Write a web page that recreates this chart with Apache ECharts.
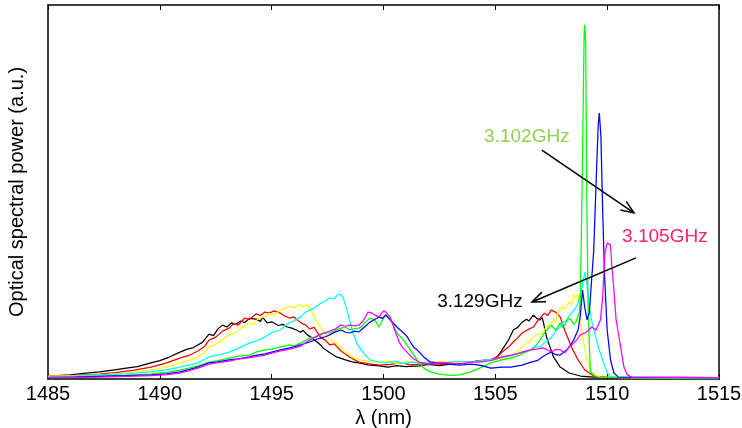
<!DOCTYPE html>
<html>
<head>
<meta charset="utf-8">
<script src="https://cdn.jsdelivr.net/npm/echarts@6/dist/echarts.min.js"></script>
<style>
  html, body { margin: 0; padding: 0; background: #fff; }
  #chart { width: 742px; height: 428px; }
</style>
</head>
<body>
<div id="chart"></div>
<script>
// Wavelength axis (nm)
const xMin = 1485, xMax = 1515, xStep = 5;

// Spectra: [wavelength nm, power a.u.]
const specBlack = [[1485,0.8],[1486,1.1],[1486.6,1.5],[1487.3,1.9],[1487.9,2.4],[1488.5,2.9],[1489,3.3],[1489.6,4.3],[1490,4.9],[1490.4,5.8],[1490.9,7.2],[1491.2,7.9],[1491.5,8.4],[1491.7,9.1],[1491.9,9.8],[1492.2,12.0],[1492.4,11.6],[1492.6,13.4],[1492.8,14.4],[1493.0,13.9],[1493.2,15.0],[1493.4,14.6],[1493.6,15.5],[1493.8,15.1],[1494.0,16.2],[1494.3,16.0],[1494.5,15.4],[1494.6,16.5],[1494.8,15.0],[1495.0,15.3],[1495.3,14.3],[1495.5,14.6],[1495.7,13.9],[1495.9,13.6],[1496.1,13.1],[1496.3,12.5],[1496.4,13.0],[1496.6,11.8],[1496.8,11.0],[1497.0,10.0],[1497.2,9.0],[1497.3,8.3],[1497.6,7.0],[1497.9,5.9],[1498.3,5.1],[1498.6,4.6],[1498.9,4.3],[1499.3,3.8],[1499.8,3.5],[1500.2,3.2],[1500.6,3.6],[1501.0,3.3],[1501.6,3.5],[1502.0,3.9],[1502.5,3.6],[1503.0,4.0],[1503.5,4.2],[1503.9,4.5],[1504.3,4.9],[1504.8,5.1],[1505.1,6.0],[1505.3,7.8],[1505.6,10.5],[1505.8,13.1],[1506.0,13.8],[1506.2,15.2],[1506.4,16.0],[1506.5,15.5],[1506.7,17.1],[1506.85,16.2],[1507.0,15.8],[1507.1,16.4],[1507.3,11.0],[1507.6,5.9],[1507.9,3.2],[1508.3,1.6],[1508.8,0.8],[1509.7,0.4],[1512,0.3],[1515,0.3]];

const specRed = [[1485,0.8],[1486,0.9],[1487.3,1.3],[1488,1.7],[1488.8,2.3],[1489.6,3.2],[1490.2,4.1],[1490.9,5.6],[1491.3,6.3],[1491.7,7.5],[1492.0,8.7],[1492.2,10.4],[1492.5,11.2],[1492.8,12.8],[1493.1,13.6],[1493.3,14.8],[1493.5,14.4],[1493.8,16.3],[1494.0,15.9],[1494.3,17.4],[1494.5,17.0],[1494.7,17.9],[1494.9,17.6],[1495.1,18.2],[1495.4,17.6],[1495.6,16.8],[1495.8,16.3],[1496.0,16.6],[1496.3,15.0],[1496.5,14.5],[1496.7,13.4],[1496.9,13.8],[1497.2,11.0],[1497.4,10.4],[1497.6,9.1],[1497.8,9.4],[1498.1,7.5],[1498.5,5.8],[1498.9,4.5],[1499.3,4.1],[1499.8,3.7],[1500.3,3.9],[1500.8,4.4],[1501.2,3.8],[1501.6,4.0],[1502.1,4.2],[1502.6,3.9],[1503.2,4.6],[1503.9,4.5],[1504.4,4.9],[1504.8,5.1],[1505.1,6.0],[1505.3,7.2],[1505.6,8.6],[1505.8,9.9],[1506.0,11.0],[1506.2,12.3],[1506.4,13.0],[1506.7,13.9],[1506.9,15.6],[1507.2,17.6],[1507.35,17.0],[1507.5,18.4],[1507.7,17.9],[1507.9,16.6],[1508.1,13.1],[1508.4,8.6],[1508.7,5.1],[1509.0,2.4],[1509.4,0.8],[1510.3,0.4],[1515,0.3]];

const specYellow = [[1485,0.8],[1486.2,0.9],[1487.3,1.1],[1488.5,1.6],[1489.6,2.4],[1490.3,3.2],[1490.9,4.3],[1491.3,5.0],[1491.7,5.9],[1492.0,7.0],[1492.2,8.6],[1492.5,9.2],[1492.8,10.6],[1493.1,11.8],[1493.4,12.4],[1493.7,13.9],[1494.0,15.0],[1494.2,14.6],[1494.4,16.2],[1494.7,16.6],[1494.9,17.5],[1495.1,17.1],[1495.4,18.4],[1495.6,18.9],[1495.8,19.5],[1496.0,19.0],[1496.2,19.9],[1496.4,19.4],[1496.6,19.8],[1496.75,18.5],[1496.9,16.6],[1497.2,13.6],[1497.5,11.2],[1497.8,9.9],[1498.1,8.6],[1498.4,6.8],[1498.6,5.9],[1498.9,5.1],[1499.4,4.7],[1499.8,4.5],[1500.2,4.8],[1500.6,4.2],[1501.0,4.6],[1501.6,4.5],[1502.1,4.3],[1502.6,4.8],[1503.2,4.4],[1503.9,4.5],[1504.4,4.8],[1504.8,5.1],[1505.3,5.4],[1505.7,5.9],[1505.95,7.2],[1506.2,8.6],[1506.4,9.8],[1506.6,10.4],[1506.8,11.6],[1507.1,12.3],[1507.25,13.7],[1507.4,14.4],[1507.6,15.8],[1507.7,15.0],[1507.8,17.9],[1508.0,19.3],[1508.1,18.6],[1508.3,20.6],[1508.4,19.8],[1508.5,22.5],[1508.6,21.6],[1508.7,22.8],[1508.9,11.2],[1509.1,5.1],[1509.3,1.6],[1509.7,0.5],[1511,0.4],[1515,0.3]];

const specCyan = [[1485,0.5],[1486.2,0.8],[1487.3,1.1],[1488.5,1.4],[1489.6,1.9],[1490.3,2.5],[1490.9,3.2],[1491.3,3.7],[1491.7,4.3],[1492.2,5.9],[1492.6,6.4],[1493.1,7.2],[1493.5,8.2],[1494.0,9.6],[1494.3,10.1],[1494.7,11.2],[1495.0,12.4],[1495.4,13.1],[1495.6,14.3],[1495.8,15.0],[1496.0,15.6],[1496.3,16.6],[1496.5,17.8],[1496.7,18.4],[1496.95,19.1],[1497.2,20.3],[1497.4,20.8],[1497.6,21.7],[1497.8,21.4],[1497.95,22.6],[1498.1,22.5],[1498.2,21.7],[1498.4,17.6],[1498.6,13.1],[1498.8,9.6],[1499.1,7.0],[1499.4,5.1],[1499.8,4.5],[1500.1,4.3],[1500.5,4.8],[1500.9,4.2],[1501.3,4.5],[1501.6,4.3],[1502.1,4.6],[1502.6,4.2],[1503.2,4.7],[1503.9,4.5],[1504.5,5.0],[1505.2,5.6],[1505.7,6.2],[1506.1,7.0],[1506.4,7.6],[1506.6,7.8],[1506.8,8.5],[1507.0,8.6],[1507.25,10.0],[1507.5,11.0],[1507.7,12.8],[1507.9,13.9],[1508.05,15.2],[1508.2,15.8],[1508.3,16.8],[1508.4,17.6],[1508.55,18.6],[1508.7,20.3],[1508.85,23.8],[1509.0,28.6],[1509.1,25.0],[1509.2,19.3],[1509.3,15.8],[1509.45,12.2],[1509.6,8.6],[1509.9,3.2],[1510.1,0.8],[1510.5,0.4],[1515,0.3]];

const specGreen = [[1485,0.5],[1486.2,0.6],[1487.3,0.8],[1488.5,1.0],[1489.6,1.3],[1490.3,1.8],[1490.9,2.4],[1491.3,2.9],[1491.7,3.5],[1492.2,4.5],[1492.6,4.9],[1493.1,5.6],[1493.5,6.1],[1494.0,6.4],[1494.3,7.2],[1494.7,7.8],[1495.0,8.0],[1495.4,8.6],[1495.8,9.1],[1496.0,8.8],[1496.3,9.6],[1496.5,10.3],[1496.7,11.0],[1496.95,11.2],[1497.2,11.8],[1497.4,12.4],[1497.6,12.3],[1497.85,13.0],[1498.1,13.6],[1498.3,13.9],[1498.5,13.1],[1498.7,13.5],[1498.9,13.6],[1499.05,14.2],[1499.2,15.2],[1499.4,16.3],[1499.6,15.8],[1499.8,13.9],[1500.0,16.3],[1500.1,17.1],[1500.25,16.4],[1500.4,15.0],[1500.6,12.3],[1500.9,10.4],[1501.2,7.8],[1501.5,5.1],[1501.8,2.9],[1502.1,1.9],[1502.5,1.3],[1503.0,1.0],[1503.4,1.1],[1503.9,1.9],[1504.3,2.9],[1504.8,4.3],[1505.3,5.1],[1505.7,5.6],[1506.1,6.4],[1506.35,7.2],[1506.6,7.8],[1506.8,8.8],[1507.0,10.4],[1507.15,12.0],[1507.3,13.1],[1507.5,14.4],[1507.7,13.1],[1507.9,15.0],[1508.0,13.8],[1508.1,14.4],[1508.25,16.2],[1508.4,15.8],[1508.5,14.6],[1508.6,15.2],[1508.75,17.5],[1508.8,21.0],[1508.87,47.9],[1508.97,92.0],[1509.0,94.7],[1509.04,90.0],[1509.09,47.9],[1509.15,18.0],[1509.25,1.9],[1509.5,0.5],[1512,0.4],[1515,0.4]];

const specBlue = [[1485,0.4],[1486.2,0.5],[1487.3,0.7],[1488.5,0.9],[1489.6,1.1],[1490.3,1.4],[1490.9,1.9],[1491.3,2.5],[1491.7,3.2],[1492.2,4.3],[1492.6,4.6],[1493.1,5.1],[1493.5,5.4],[1494.0,5.9],[1494.3,6.3],[1494.7,6.7],[1495.0,7.2],[1495.4,7.8],[1495.8,8.3],[1496.0,8.6],[1496.3,9.1],[1496.5,9.5],[1496.7,9.9],[1496.95,10.5],[1497.2,11.0],[1497.4,11.3],[1497.6,11.8],[1497.85,12.6],[1498.1,13.1],[1498.3,12.5],[1498.5,12.3],[1498.7,12.8],[1498.9,12.6],[1499.15,13.9],[1499.4,15.2],[1499.6,15.9],[1499.8,16.6],[1499.95,16.2],[1500.1,17.1],[1500.3,15.8],[1500.6,13.9],[1500.9,12.3],[1501.05,11.4],[1501.2,9.9],[1501.35,8.5],[1501.5,7.8],[1501.8,5.9],[1502.1,4.5],[1502.5,4.3],[1503.0,3.9],[1503.4,3.7],[1503.9,4.0],[1504.3,3.7],[1504.8,2.9],[1505.3,3.2],[1505.7,3.2],[1506.0,3.5],[1506.2,3.7],[1506.6,4.5],[1506.9,5.0],[1507.1,5.9],[1507.3,6.6],[1507.5,7.2],[1507.7,6.5],[1507.9,6.4],[1508.2,7.8],[1508.35,9.0],[1508.5,10.4],[1508.7,13.1],[1508.8,17.0],[1508.9,23.8],[1509.0,19.0],[1509.1,15.8],[1509.2,17.6],[1509.4,34.5],[1509.52,55.0],[1509.6,68.0],[1509.65,71.1],[1509.72,65.0],[1509.8,45.0],[1509.88,28.0],[1510.0,13.1],[1510.15,5.1],[1510.3,1.6],[1510.5,0.5],[1515,0.4]];

const specMagenta = [[1485,0.4],[1486.2,0.45],[1487.3,0.5],[1488.5,0.7],[1489.6,0.9],[1490.3,1.2],[1490.9,1.6],[1491.3,2.2],[1491.7,2.9],[1492.2,4.0],[1492.6,4.4],[1493.1,4.8],[1493.5,5.3],[1494.0,5.7],[1494.3,6.0],[1494.7,6.4],[1495.0,6.9],[1495.4,7.5],[1495.8,8.0],[1496.0,8.3],[1496.3,8.8],[1496.5,9.6],[1496.7,10.4],[1496.95,11.2],[1497.2,12.0],[1497.4,12.4],[1497.6,12.8],[1497.85,13.4],[1498.1,14.4],[1498.3,14.1],[1498.5,14.4],[1498.7,14.2],[1498.9,14.4],[1499.05,15.3],[1499.2,16.6],[1499.3,17.9],[1499.5,17.6],[1499.65,17.0],[1499.8,16.6],[1500.0,18.2],[1500.1,17.9],[1500.3,16.6],[1500.5,13.1],[1500.7,9.9],[1500.85,8.4],[1501.05,7.2],[1501.3,5.6],[1501.6,4.5],[1502.0,4.0],[1502.5,4.4],[1502.9,4.3],[1503.4,4.0],[1503.9,4.5],[1504.3,4.5],[1504.8,4.9],[1505.3,5.9],[1505.7,6.4],[1506.0,6.8],[1506.2,7.2],[1506.4,7.5],[1506.6,7.8],[1506.85,8.0],[1507.1,8.3],[1507.3,7.9],[1507.5,7.2],[1507.7,7.9],[1507.9,7.8],[1508.1,7.0],[1508.3,8.5],[1508.5,9.6],[1508.65,10.5],[1508.8,11.8],[1509.0,12.3],[1509.15,12.9],[1509.3,13.9],[1509.5,13.1],[1509.7,15.8],[1509.8,21.9],[1509.9,33.7],[1510.0,36.4],[1510.15,35.8],[1510.2,31.0],[1510.3,23.8],[1510.4,15.8],[1510.5,12.3],[1510.6,8.6],[1510.75,3.2],[1510.9,1.1],[1511.1,0.5],[1515,0.4]];

const seriesNames = ['black', 'red', 'yellow', 'cyan', 'green', 'blue', 'magenta'];
const seriesColors = ['#000000', '#ff0000', '#ffff00', '#00ffff', '#00ff00', '#0000ff', '#ff00ff'];
const seriesData = [specBlack, specRed, specYellow, specCyan, specGreen, specBlue, specMagenta];

// Frequency labels with their arrows, in data coordinates
const labelTexts = ['3.102GHz', '3.105GHz', '3.129GHz'];
const labelColors = ['#92d050', '#ff2070', '#000000'];
const labelAt = [[1506.41, 64.7], [1512.58, 38.0], [1504.31, 20.6]];
const arrowFrom = [[1507.08, 61.2], [1511.29, 32.4]];
const arrowTo = [[1511.2, 44.4], [1506.64, 20.6]];

const FONT = '"Liberation Sans", Arial, sans-serif';
const chart = echarts.init(document.getElementById('chart'));

const boxLine = { onZero: false, lineStyle: { color: '#000', width: 1.5 } };

chart.setOption({
  animation: false,
  backgroundColor: '#ffffff',
  grid: { left: 48, right: 23, top: 5, bottom: 49, containLabel: false, outerBoundsMode: 'none' },
  xAxis: [{
    type: 'value', min: xMin, max: xMax, interval: xStep, position: 'bottom',
    name: 'λ (nm)', nameLocation: 'middle', nameGap: 23,
    nameTextStyle: { fontFamily: FONT, fontSize: 20, color: '#000' },
    axisLine: boxLine,
    axisTick: { inside: true, length: 5, lineStyle: { color: '#000' } },
    axisLabel: { fontFamily: FONT, fontSize: 20, color: '#000', margin: 5, formatter: v => String(v) },
    splitLine: { show: false }
  }, {
    type: 'value', min: xMin, max: xMax, interval: xStep, position: 'top',
    axisLine: boxLine,
    axisTick: { inside: true, length: 5, lineStyle: { color: '#000' } },
    axisLabel: { show: false }, splitLine: { show: false }
  }],
  yAxis: [{
    type: 'value', min: 0, max: 100, position: 'left',
    name: 'Optical spectral power (a.u.)', nameLocation: 'middle', nameGap: 21,
    nameTextStyle: { fontFamily: FONT, fontSize: 20, color: '#000' },
    axisLine: Object.assign({ show: true }, boxLine),
    axisTick: { show: false }, axisLabel: { show: false }, splitLine: { show: false }
  }, {
    type: 'value', min: 0, max: 100, position: 'right',
    axisLine: Object.assign({ show: true }, boxLine),
    axisTick: { show: false }, axisLabel: { show: false }, splitLine: { show: false }
  }],
  series: seriesNames.map((n, i) => ({
    name: n, type: 'line', data: seriesData[i], showSymbol: false, symbol: 'none',
    lineStyle: { color: seriesColors[i], width: 1.25 }, z: 2 + i, silent: true
  }))
});

// Annotations placed from data coordinates
function headLines(p0, p1, len, ang) {
  const a = Math.atan2(p1[1] - p0[1], p1[0] - p0[0]);
  const l = [p1[0] - len * Math.cos(a - ang), p1[1] - len * Math.sin(a - ang)];
  const r = [p1[0] - len * Math.cos(a + ang), p1[1] - len * Math.sin(a + ang)];
  return [l, p1, r];
}
const graphics = [];
labelTexts.forEach((t, i) => {
  const p = chart.convertToPixel({ xAxisIndex: 0, yAxisIndex: 0 }, labelAt[i]);
  graphics.push({ type: 'text', x: p[0], y: p[1], z: 50,
    style: { text: t, fill: labelColors[i], font: '19px ' + FONT, textAlign: 'center', textVerticalAlign: 'middle' } });
});
arrowFrom.forEach((f, i) => {
  const p0 = chart.convertToPixel({ xAxisIndex: 0, yAxisIndex: 0 }, f);
  const p1 = chart.convertToPixel({ xAxisIndex: 0, yAxisIndex: 0 }, arrowTo[i]);
  graphics.push({ type: 'polyline', z: 50, shape: { points: [p0, p1] }, style: { stroke: '#000', lineWidth: 1.5, fill: null } });
  graphics.push({ type: 'polyline', z: 50, shape: { points: headLines(p0, p1, 14, 0.38) }, style: { stroke: '#000', lineWidth: 1.5, fill: null } });
});
chart.setOption({ graphic: graphics });
</script>
</body>
</html>
